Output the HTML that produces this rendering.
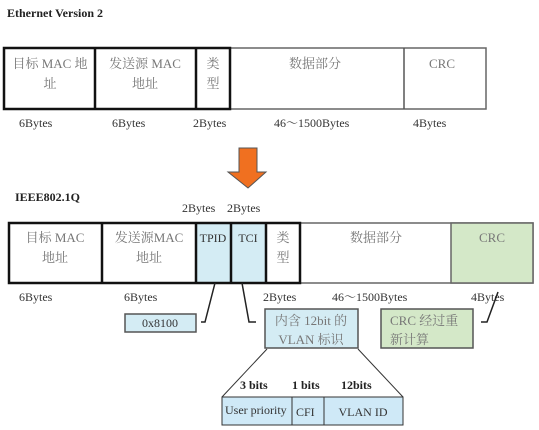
<!DOCTYPE html>
<html><head><meta charset="utf-8"><style>
html,body{margin:0;padding:0;background:#fff;}
svg{display:block;}
text{font-family:"Liberation Serif","Noto Serif CJK SC",serif;}
.g{fill:#777;font-size:13px;}
.k{fill:#333;font-size:12px;}
.b{fill:#222;font-size:12px;font-weight:bold;}
</style></head><body>
<svg width="539" height="430" viewBox="0 0 539 430" xmlns="http://www.w3.org/2000/svg">
<text x="7" y="17" class="b">Ethernet Version 2</text>
<!-- top frame -->
<rect x="4" y="48" width="482" height="61" fill="#fff" stroke="#666" stroke-width="1.5"/>
<rect x="4" y="48" width="226" height="61" fill="none" stroke="#111" stroke-width="2.5"/>
<line x1="95" y1="48" x2="95" y2="109" stroke="#111" stroke-width="2.5"/>
<line x1="196" y1="48" x2="196" y2="109" stroke="#111" stroke-width="2.5"/>
<line x1="404" y1="48" x2="404" y2="109" stroke="#555" stroke-width="1.5"/>
<text x="50" y="68" class="g" text-anchor="middle">目标 MAC 地</text>
<text x="50" y="88" class="g" text-anchor="middle">址</text>
<text x="145" y="68" class="g" text-anchor="middle">发送源 MAC</text>
<text x="145" y="88" class="g" text-anchor="middle">地址</text>
<text x="213" y="68" class="g" text-anchor="middle">类</text>
<text x="213" y="88" class="g" text-anchor="middle">型</text>
<text x="315" y="68" class="g" text-anchor="middle">数据部分</text>
<text x="442" y="68" class="g" text-anchor="middle">CRC</text>
<text x="19" y="127" class="k">6Bytes</text>
<text x="112" y="127" class="k">6Bytes</text>
<text x="193" y="127" class="k">2Bytes</text>
<text x="274" y="127" class="k">46～1500Bytes</text>
<text x="413" y="127" class="k">4Bytes</text>
<!-- arrow -->
<polygon points="239,148 257,148 257,172 266,172 248,188 228,172 239,172" fill="#f07020" stroke="#555" stroke-width="1"/>
<text x="15" y="201" class="b">IEEE802.1Q</text>
<text x="182" y="212" class="k">2Bytes</text>
<text x="227" y="212" class="k">2Bytes</text>
<!-- row 2 -->
<rect x="9" y="223" width="524" height="60" fill="#fff" stroke="#666" stroke-width="1.5"/>
<rect x="196" y="223" width="70" height="60" fill="#d4ecf4"/>
<rect x="451" y="223" width="82" height="60" fill="#d4e8c8" stroke="#666" stroke-width="1.5"/>
<rect x="9" y="223" width="291" height="60" fill="none" stroke="#111" stroke-width="2.5"/>
<line x1="102" y1="223" x2="102" y2="283" stroke="#111" stroke-width="2.5"/>
<line x1="196" y1="223" x2="196" y2="283" stroke="#111" stroke-width="2.5"/>
<line x1="231" y1="223" x2="231" y2="283" stroke="#111" stroke-width="2.5"/>
<line x1="266" y1="223" x2="266" y2="283" stroke="#111" stroke-width="2.5"/>
<text x="55" y="242" class="g" text-anchor="middle">目标 MAC</text>
<text x="55" y="262" class="g" text-anchor="middle">地址</text>
<text x="149" y="242" class="g" text-anchor="middle">发送源MAC</text>
<text x="149" y="262" class="g" text-anchor="middle">地址</text>
<text x="213" y="242" class="k" text-anchor="middle" font-size="11">TPID</text>
<text x="248" y="242" class="k" text-anchor="middle">TCI</text>
<text x="283" y="242" class="g" text-anchor="middle">类</text>
<text x="283" y="262" class="g" text-anchor="middle">型</text>
<text x="376" y="242" class="g" text-anchor="middle">数据部分</text>
<text x="492" y="242" class="g" text-anchor="middle">CRC</text>
<text x="19" y="301" class="k">6Bytes</text>
<text x="124" y="301" class="k">6Bytes</text>
<text x="263" y="301" class="k">2Bytes</text>
<text x="332" y="301" class="k">46～1500Bytes</text>
<text x="471" y="301" class="k">4Bytes</text>
<!-- callouts -->
<rect x="125" y="314" width="71" height="18" fill="#d4ecf4" stroke="#555" stroke-width="1.5"/>
<text x="160" y="327" class="k" text-anchor="middle">0x8100</text>
<polyline points="215,283 205,322 201,322" fill="none" stroke="#222" stroke-width="1.5"/>
<polyline points="242,283 249,322 256,322" fill="none" stroke="#222" stroke-width="1.5"/>
<polyline points="498,292 487,322 481,322" fill="none" stroke="#222" stroke-width="1.5"/>
<rect x="265" y="309" width="93" height="39" fill="#d4ecf4" stroke="#555" stroke-width="1.5"/>
<text x="311" y="325" class="g" text-anchor="middle">内含 12bit 的</text>
<text x="311" y="344" class="g" text-anchor="middle">VLAN 标识</text>
<rect x="381" y="309" width="92" height="39" fill="#d4e8c8" stroke="#555" stroke-width="1.5"/>
<text x="390" y="325" class="g">CRC 经过重</text>
<text x="390" y="344" class="g">新计算</text>
<!-- trapezoid -->
<line x1="267" y1="349" x2="222" y2="397" stroke="#333" stroke-width="1"/>
<line x1="358" y1="349" x2="403" y2="397" stroke="#333" stroke-width="1"/>
<text x="240" y="389" class="b">3 bits</text>
<text x="292" y="389" class="b">1 bits</text>
<text x="341" y="389" class="b">12bits</text>
<rect x="222" y="397" width="181" height="28" fill="#cfe9f7" stroke="#333" stroke-width="1"/>
<line x1="292" y1="397" x2="292" y2="425" stroke="#333" stroke-width="1"/>
<line x1="324" y1="397" x2="324" y2="425" stroke="#333" stroke-width="1"/>
<text x="225" y="414" class="k">User priority</text>
<text x="296" y="416" class="k">CFI</text>
<text x="363" y="416" class="k" text-anchor="middle">VLAN ID</text>
</svg>
</body></html>
